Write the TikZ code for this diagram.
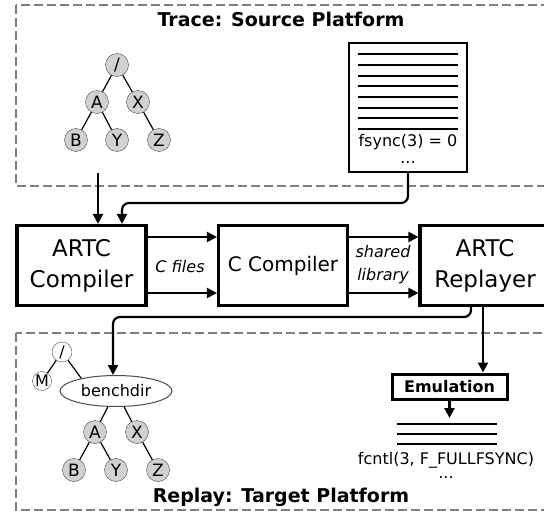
\documentclass[tikz,border=0pt]{standalone}
\usepackage{fontspec}
\setmainfont{DejaVu Sans}
\usetikzlibrary{arrows.meta,shapes.geometric}

\begin{document}
\begin{tikzpicture}[x=1pt,y=-1pt,
    platform/.style={draw=black!50,line width=1.8pt,dash pattern=on 9pt off 4pt},
    title/.style={font=\bfseries\fontsize{19}{21}\selectfont},
    tool/.style={draw,line width=3.2pt,minimum width=129pt,minimum height=80pt,
        align=center,inner sep=0pt,font=\fontsize{23}{31}\selectfont},
    flow/.style={line width=2.2pt,rounded corners=7pt,-{Triangle[length=10pt,width=10pt]}},
    edgelbl/.style={align=center,font=\itshape\fontsize{16}{23}\selectfont},
    fnode/.style={circle,draw=black!70,fill=black!18,minimum size=23pt,inner sep=0pt,
        font=\fontsize{17}{17}\selectfont},
    dnode/.style={fnode,fill=white,minimum size=20pt,font=\fontsize{16}{16}\selectfont},
    tline/.style={line width=1.2pt},
    logline/.style={line width=1.4pt},
    txt/.style={font=\fontsize{16}{16}\selectfont,inner sep=0pt}]
    \clip (0,0) rectangle (544,511);
    \draw[platform] (16,5) rectangle (570,186);
    \draw[platform] (16,333) rectangle (570,510);
    \node[title] (tracetitle) at (281,19) {Trace: Source Platform};
    \node[title] (replaytitle) at (281,497) {Replay: Target Platform};
    \node[fnode] (r1) at (117,65) {/};
    \node[fnode] (a1) at (97,102) {A};
    \node[fnode] (x1) at (138,102) {X};
    \node[fnode] (b1) at (76,140) {B};
    \node[fnode] (y1) at (117,140) {Y};
    \node[fnode] (z1) at (159,140) {Z};
    \draw[tline] (r1) -- (a1) (r1) -- (x1) (a1) -- (b1) (a1) -- (y1) (x1) -- (z1);
    \node[draw,line width=1.4pt,minimum width=118pt,minimum height=129pt] (doc) at (408,107.5) {};
    \foreach \ly in {54,65,76,86,97,108,118,129}
        \draw[logline] (358,\ly) -- (458,\ly);
    \node[txt] (fsync) at (408,142) {fsync(3) = 0};
    \node[txt] (fsyncdots) at (408,163) {...};
    \node[tool] (artc) at (81.5,265.5) {ARTC\\Compiler};
    \node[tool,font=\fontsize{20}{24}\selectfont] (cc) at (283,265.5) {C Compiler};
    \node[tool,minimum width=130pt] (rep) at (485,265.5) {ARTC\\Replayer};
    \coordinate (treeout) at (98,173);
    \coordinate (docin) at (122,203);
    \coordinate (hi) at (0,237);
    \coordinate (lo) at (0,293);
    \draw[flow] (treeout) -- (treeout |- artc.north);
    \draw[flow] (doc.south) |- (docin) -- (docin |- artc.north);
    \draw[flow] (artc.east |- hi) -- (cc.west |- hi);
    \draw[flow] (artc.east |- lo) -- (cc.west |- lo);
    \draw[flow] (cc.east |- hi) -- (rep.west |- hi);
    \draw[flow] (cc.east |- lo) -- (rep.west |- lo);
    \node[edgelbl] (cfiles) at (180,267) {C files};
    \node[edgelbl] (shlib) at (383,265) {shared\\library};
    \node[dnode] (r2) at (62,352) {/};
    \node[dnode,minimum size=19pt] (m2) at (42,381) {M};
    \node[ellipse,draw=black!70,line width=1pt,minimum width=112pt,minimum height=31pt,inner sep=0pt,
        font=\fontsize{16}{16}\selectfont] (bench) at (116,391) {benchdir};
    \node[fnode] (a2) at (95,432) {A};
    \node[fnode] (x2) at (137,432) {X};
    \node[fnode] (b2) at (74,470) {B};
    \node[fnode] (y2) at (116,470) {Y};
    \node[fnode] (z2) at (158,470) {Z};
    \draw[tline] (r2) -- (m2) (r2) -- (bench.160) (bench) -- (a2) (bench) -- (x2)
        (a2) -- (b2) (a2) -- (y2) (x2) -- (z2);
    \node[draw,line width=3pt,minimum width=115pt,minimum height=25pt,inner sep=0pt,
        font=\bfseries\fontsize{16}{16}\selectfont] (emu) at (449.5,386.5) {Emulation};
    \coordinate (repout) at (471,0);
    \coordinate (benchin) at (113,317);
    \coordinate (emuin) at (483,0);
    \coordinate (logtop) at (0,418);
    \draw[flow] (repout |- rep.south) |- (benchin) -- (benchin |- bench.north);
    \draw[flow] (emuin |- rep.south) -- (emuin |- emu.north);
    \draw[flow] (emu.south) -- (emu.south |- logtop);
    \foreach \ly in {424,434,444}
        \draw[logline] (397,\ly) -- (497,\ly);
    \node[txt] (fcntl) at (446,460) {fcntl(3, F\_FULLFSYNC)};
    \node[txt] (fcntldots) at (446,478) {...};
\end{tikzpicture}
\end{document}
